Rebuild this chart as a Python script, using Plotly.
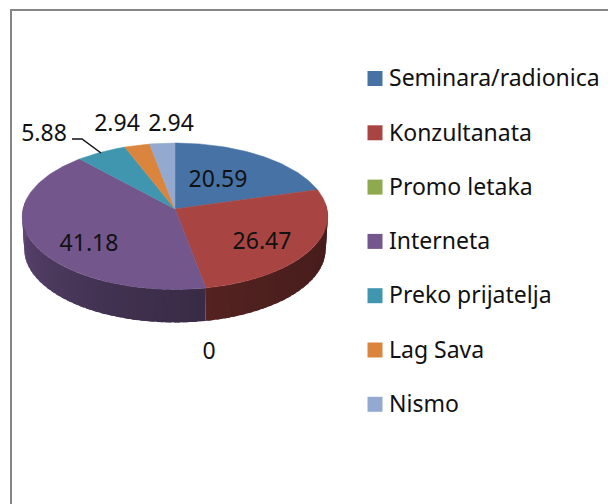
import numpy as np
import plotly.graph_objects as go

CATEGORIES = ["Seminara/radionica", "Konzultanata", "Promo letaka", "Interneta",
              "Preko prijatelja", "Lag Sava", "Nismo"]
VALUES = [20.59, 26.47, 0, 41.18, 5.88, 2.94, 2.94]
COLORS = ["#4672a6", "#a84542", "#8fa94f", "#72568c", "#4096ae", "#db843d", "#93a9cf"]

FONT = "Noto Sans"
INK = "#111111"
FRAME = "#868686"
W, H = 608, 504

# Pie projection, in page pixels (the axes below run 1:1 with the page)
CX, CY = 175.0, 209.0
RX, RY, PERSP = 152.0, 72.5, 0.099
DEPTH, RX_LOW = 33.0, 150.0
# Where each value label sits, in the order of VALUES
LABEL_XY = [(218, 181), (262, 243), (209, 353), (89, 245), (44, 135), (117, 125), (171, 125)]
LEGEND_X, LEGEND_TEXT_X, LEGEND_Y0, LEGEND_STEP = 375, 389, 78.5, 54.3


def project(theta, low=False):
    """Clockwise angle from 12 o'clock (degrees) to page pixels on the disc."""
    t = np.radians(theta)
    u, v = np.sin(t), np.cos(t)
    w = 1 + PERSP * v
    rx = RX_LOW if low else RX
    return CX + rx * u / w, CY + (DEPTH if low else 0) - RY * v / w


def shade(color, theta):
    f = 0.42 + 0.41 * (max(theta - 90, 0) / 180) ** 2.0
    r, g, b = (int(color[i:i + 2], 16) for i in (1, 3, 5))
    return f"rgb({r * f:.0f},{g * f:.0f},{b * f:.0f})"


def patch(xs, ys, fill, width=0.0):
    line = dict(color=fill, width=width)
    return go.Scatter(x=xs, y=ys, mode="lines", fill="toself", fillcolor=fill,
                      line=line, hoverinfo="skip", showlegend=False)


edges = np.concatenate([[0], np.cumsum(VALUES)]) / sum(VALUES) * 360
fig = go.Figure()

# Side wall: strips overlap the next one so no seams show along the rim
for start, end, color in zip(edges[:-1], edges[1:], COLORS):
    lo, hi = max(start, 84), min(end, 276)
    if hi <= lo:
        continue
    cuts = np.linspace(lo, hi, int(np.ceil((hi - lo) / 3)) + 1)
    for a, b in zip(cuts[:-1], cuts[1:]):
        arc = np.linspace(a, min(b + 2, hi), 6)
        xt, yt = project(arc)
        xb, yb = project(arc[::-1], low=True)
        fig.add_trace(patch(np.r_[xt, xb], np.r_[yt, yb], shade(color, (a + b) / 2)))

# Top face
for start, end, color, value in zip(edges[:-1], edges[1:], COLORS, VALUES):
    if value == 0:
        continue
    arc = np.linspace(start, end, max(int(end - start), 2) + 1)
    xs, ys = project(arc)
    fig.add_trace(patch(np.r_[CX, xs, CX], np.r_[CY, ys, CY], color, 0.5))

# Value labels
fig.add_trace(go.Scatter(
    x=[p[0] for p in LABEL_XY], y=[p[1] for p in LABEL_XY], mode="text",
    text=[f"{v:g}" for v in VALUES], textposition="middle center",
    textfont=dict(family=FONT, size=23, color=INK),
    hoverinfo="skip", showlegend=False))

# Legend column
rows = [LEGEND_Y0 + i * LEGEND_STEP for i in range(len(CATEGORIES))]
fig.add_trace(go.Scatter(
    x=[LEGEND_X] * len(CATEGORIES), y=rows, mode="markers",
    marker=dict(symbol="square", size=15, color=COLORS, line=dict(width=0)),
    hoverinfo="text", hovertext=CATEGORIES, showlegend=False))
fig.add_trace(go.Scatter(
    x=[LEGEND_TEXT_X] * len(CATEGORIES), y=[r + 2 for r in rows], mode="text",
    text=CATEGORIES, textposition="middle right",
    textfont=dict(family=FONT, size=23, color=INK),
    hoverinfo="skip", showlegend=False))

axis = dict(visible=False, fixedrange=True)
fig.update_layout(
    width=W, height=H, margin=dict(l=0, r=0, t=0, b=0),
    paper_bgcolor="white", plot_bgcolor="white", showlegend=False,
    xaxis=dict(range=[0, W], **axis), yaxis=dict(range=[H, 0], **axis),
    shapes=[
        dict(type="line", x0=11, x1=11, y0=9, y1=H, line=dict(color=FRAME, width=2)),
        dict(type="line", x0=10, x1=W, y0=10, y1=10, line=dict(color=FRAME, width=2)),
        dict(type="path", path="M 72 139 L 82 139 L 101 153", line=dict(color="#111111", width=1.5)),
    ],
)

fig.write_html("out.html", config=dict(displayModeBar=False),
               post_script="document.body.style.margin='0';document.body.style.overflow='hidden';")
